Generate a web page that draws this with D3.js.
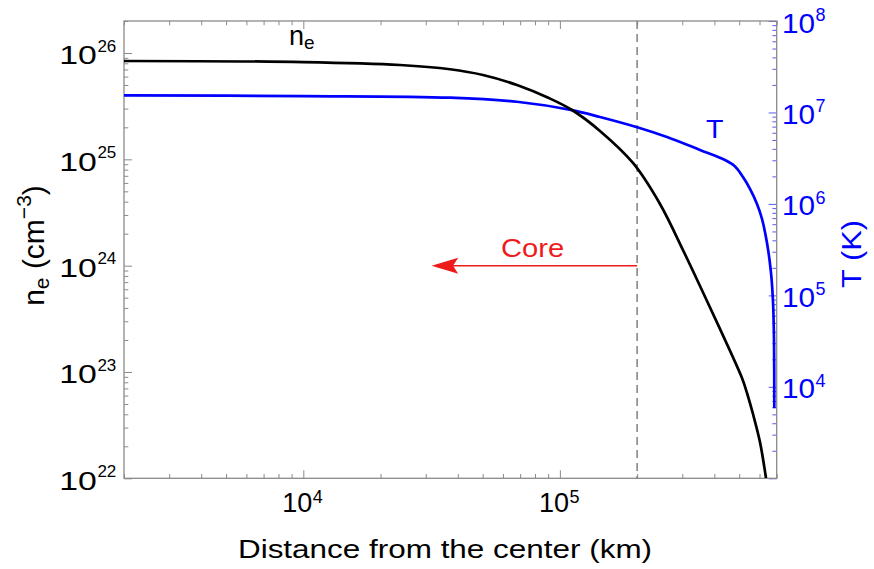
<!DOCTYPE html>
<html>
<head>
<meta charset="utf-8">
<script src="https://cdn.jsdelivr.net/npm/d3@7"></script>
<style>
  body { margin: 0; background: #fff; }
  svg text { font-family: "Liberation Sans", Arial, Helvetica, sans-serif; }
</style>
</head>
<body>
<svg id="chart" width="874" height="569"></svg>
<script>
// Electron density profile: distance from the center (km) -> n_e (cm^-3)
const densityDistKm = [2000, 10000, 23810, 37300, 50150, 68060, 91500, 111500, 143300, 192700,
  245600, 301900, 351700, 420700, 512700, 536200, 565700, 602500, 636000];
const densityValues = [8.41e25, 8.22e25, 7.71e25, 7.03e25, 6.21e25, 5.0e25, 3.73e25, 2.91e25, 1.85e25, 9.24e24,
  3.8e24, 1.4e24, 6.44e23, 2.54e23, 8.77e22, 6.34e22, 4.03e22, 2.19e22, 1.0e22];

// Temperature profile: distance from the center (km) -> T (K)
const tempDistKm = [2000, 10000, 37300, 68060, 111500, 143300, 201600, 261500, 351700, 440100,
  481500, 517400, 550800, 586600, 613600, 641700, 665200, 677200, 683300, 685000];
const tempValues = [1.54e7, 1.51e7, 1.45e7, 1.31e7, 1.06e7, 8.92e6, 6.85e6, 5.39e6, 3.89e6, 3.02e6,
  2.57e6, 1.97e6, 1.46e6, 9.98e5, 6.84e5, 3.74e5, 1.76e5, 8.47e4, 3.25e4, 5.83e3];

// Labelled ticks (powers of ten)
const xLabelExps = [4, 5];
const densityLabelExps = [22, 23, 24, 25, 26];
const tempLabelExps = [4, 5, 6, 7, 8];

// Core boundary marker and arrow
const coreBoundaryKm = 2e5;
const coreArrowTipKm = 3.16e4;
const coreArrowLevel = 1e24;

const plot = { left: 124, right: 776.7, top: 21, bottom: 478.3 };
const svg = d3.select("#chart");

const x = d3.scaleLog().domain([2e3, 7e5]).range([plot.left, plot.right]);
const yN = d3.scaleLog().domain([1e22, 2e26]).range([plot.bottom, plot.top]);
const yT = d3.scaleLog().domain([1e3, 1e8]).range([plot.bottom, plot.top]);

const frameColor = "#8a8a8a";
const blueTick = "#5a5af0";
const blue = "#0000ff";
const red = "#ee1b1b";

const isPow10 = v => Math.abs(Math.log10(v) - Math.round(Math.log10(v))) < 1e-9;

// Inward ticks through d3 axes: minor short, major long
function tickAxis(axisFn, scale, transform, color) {
  const all = scale.ticks();
  const minor = all.filter(v => !isPow10(v));
  const major = all.filter(v => isPow10(v));
  [[minor, 4.3], [major, 8]].forEach(([vals, len]) => {
    const g = svg.append("g").attr("transform", transform)
      .call(axisFn(scale).tickValues(vals).tickSize(-len).tickSizeOuter(0).tickFormat(""));
    g.select(".domain").remove();
    g.selectAll(".tick line").attr("stroke", color).attr("stroke-width", 1);
  });
}
tickAxis(d3.axisBottom, x, `translate(0,${plot.bottom})`, frameColor);
tickAxis(d3.axisTop, x, `translate(0,${plot.top})`, frameColor);
tickAxis(d3.axisLeft, yN, `translate(${plot.left},0)`, frameColor);
tickAxis(d3.axisRight, yT, `translate(${plot.right},0)`, blueTick);

// Frame
svg.append("rect")
  .attr("x", plot.left).attr("y", plot.top)
  .attr("width", plot.right - plot.left).attr("height", plot.bottom - plot.top)
  .attr("fill", "none").attr("stroke", frameColor).attr("stroke-width", 1.3);

// Power-of-ten label: "10" base plus raised exponent
function powLabel(x0, baseY, exp, opts) {
  const g = svg.append("g").attr("fill", opts.color || "#000");
  g.append("text")
    .attr("transform", `translate(${x0},${baseY}) scale(${opts.sx},1)`)
    .attr("font-size", opts.fs).text("10");
  const baseAdv = 1.112 * opts.fs * opts.sx;
  g.append("text")
    .attr("x", x0 + baseAdv + opts.gap).attr("y", baseY - opts.raise)
    .attr("font-size", opts.sfs).text(exp);
}

densityLabelExps.forEach(e => {
  const ty = yN(Math.pow(10, e));
  powLabel(59.3, ty + 11.3, e, { fs: 26, sx: 1.3, sfs: 17, gap: 0.5, raise: 12.6 });
});
tempLabelExps.forEach(e => {
  const ty = yT(Math.pow(10, e));
  powLabel(782, ty + 11.5, e, { fs: 27, sx: 1.1, sfs: 18, gap: 0.5, raise: 11.5, color: blue });
});
xLabelExps.forEach(e => {
  const tx = x(Math.pow(10, e));
  powLabel(tx - 21, 511.7, e, { fs: 27, sx: 1.0, sfs: 18, gap: 0.5, raise: 9 });
});

// Core boundary (dashed)
svg.append("line")
  .attr("x1", x(coreBoundaryKm)).attr("x2", x(coreBoundaryKm))
  .attr("y1", plot.top).attr("y2", plot.bottom)
  .attr("stroke", "#808080").attr("stroke-width", 1.5).attr("stroke-dasharray", "8,5");

// Curves
svg.append("clipPath").attr("id", "plotClip").append("rect")
  .attr("x", plot.left).attr("y", plot.top)
  .attr("width", plot.right - plot.left).attr("height", plot.bottom - plot.top);

const tempLine = d3.line()
  .x((d, i) => x(tempDistKm[i])).y(d => yT(d)).curve(d3.curveCatmullRom.alpha(0.5));
const densityLine = d3.line()
  .x((d, i) => x(densityDistKm[i])).y(d => yN(d)).curve(d3.curveCatmullRom.alpha(0.5));

svg.append("path").attr("clip-path", "url(#plotClip)")
  .attr("d", tempLine(tempValues))
  .attr("fill", "none").attr("stroke", blue).attr("stroke-width", 2.7);
svg.append("path").attr("clip-path", "url(#plotClip)")
  .attr("d", densityLine(densityValues))
  .attr("fill", "none").attr("stroke", "#000").attr("stroke-width", 2.7);

// Core arrow
const ay = yN(coreArrowLevel);
const tipX = x(coreArrowTipKm);
svg.append("line")
  .attr("x1", x(coreBoundaryKm)).attr("x2", tipX + 20)
  .attr("y1", ay).attr("y2", ay)
  .attr("stroke", red).attr("stroke-width", 1.5);
svg.append("path")
  .attr("d", `M${tipX},${ay} L${tipX + 26.7},${ay - 8} L${tipX + 21.5},${ay} L${tipX + 26.7},${ay + 8} Z`)
  .attr("fill", red);
svg.append("text")
  .attr("transform", `translate(532.5,256.7) scale(1.14,1)`)
  .attr("text-anchor", "middle").attr("font-size", 25.6).attr("fill", red)
  .text("Core");

// Curve labels
const neLbl = svg.append("text").attr("x", 289).attr("y", 45).attr("font-size", 27);
neLbl.append("tspan").text("n");
neLbl.append("tspan").attr("font-size", 19).attr("dy", 3.5).text("e");

svg.append("text")
  .attr("transform", `translate(714.8,137.7) scale(1.1,1)`)
  .attr("text-anchor", "middle").attr("font-size", 26).attr("fill", blue)
  .text("T");

// Axis titles
svg.append("text")
  .attr("transform", `translate(445,558.3) scale(1.21,1)`)
  .attr("text-anchor", "middle").attr("font-size", 26)
  .text("Distance from the center (km)");

const yTitle = svg.append("text")
  .attr("transform", `translate(43.5,245.5) rotate(-90)`)
  .attr("text-anchor", "middle").attr("font-size", 30);
yTitle.append("tspan").text("n");
yTitle.append("tspan").attr("font-size", 21).attr("dy", 5).text("e");
yTitle.append("tspan").attr("dy", -5).text(" (cm");
yTitle.append("tspan").attr("font-size", 21).attr("dy", -12.5).text("\u22123");
yTitle.append("tspan").attr("dy", 12.5).text(")");

svg.append("text")
  .attr("transform", `translate(861,254) rotate(-90) scale(1.1,1)`)
  .attr("text-anchor", "middle").attr("font-size", 28).attr("fill", blue)
  .text("T (K)");
</script>
</body>
</html>
